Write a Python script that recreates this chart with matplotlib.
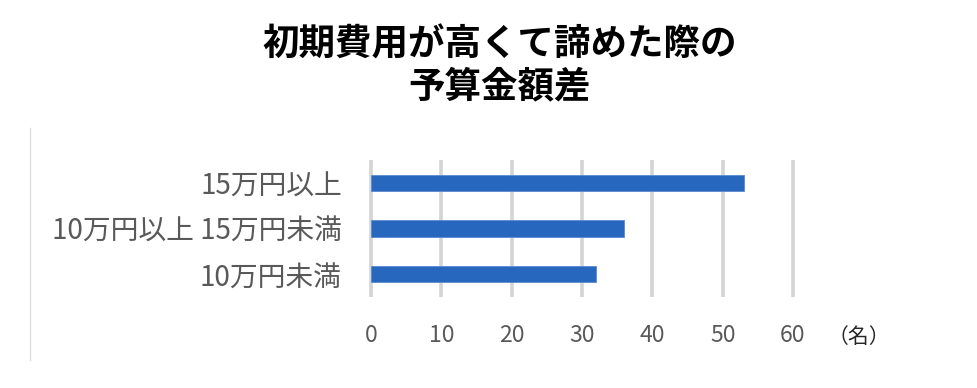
import matplotlib.pyplot as plt
from matplotlib.lines import Line2D

plt.rcParams['font.family'] = ['Noto Sans CJK JP', 'DejaVu Sans']

title = "初期費用が高くて諦めた際の\n予算金額差"
categories = ["15万円以上", "10万円以上 15万円未満", "10万円未満"]
values = [53, 36, 32]
xticks = [0, 10, 20, 30, 40, 50, 60]
unit = "（名）"

fig = plt.figure(figsize=(9.78, 3.88), dpi=100)
ax = fig.add_axes([0.3793, 0.2345, 0.4315, 0.353])

ypos = list(range(len(categories)))[::-1]
ax.barh(ypos, values, height=0.36, color='#2867BE', edgecolor='#5b8ad0',
        linewidth=0.6, zorder=3)

ax.set_xlim(0, 60)
ax.set_ylim(-0.5, 2.5)
ax.set_xticks(xticks)
ax.set_yticks(ypos)
ax.set_yticklabels(categories, fontsize=20)
ax.vlines(xticks, -0.5, 2.5, colors='#d4d4d4', linewidth=2.6, zorder=1,
          clip_on=False)

for s in ax.spines.values():
    s.set_visible(False)
ax.tick_params(axis='both', length=0, colors='#595959')
ax.tick_params(axis='x', labelsize=16.5, pad=19.5)
ax.tick_params(axis='y', pad=21)

fig.text(859 / 978, 1 - 334 / 388, unit, fontsize=15, color='#262626',
         ha='center', va='center_baseline')

fig.text(0.511, 0.83, title, ha='center', va='center', fontsize=26.3,
         fontweight='bold', color='black', linespacing=1.15)

fig.add_artist(Line2D([30 / 978, 30 / 978], [1 - 128 / 388, 1 - 360 / 388],
                      transform=fig.transFigure, color='#e0e0e0', linewidth=1))

fig.savefig('out.png', dpi=100)
